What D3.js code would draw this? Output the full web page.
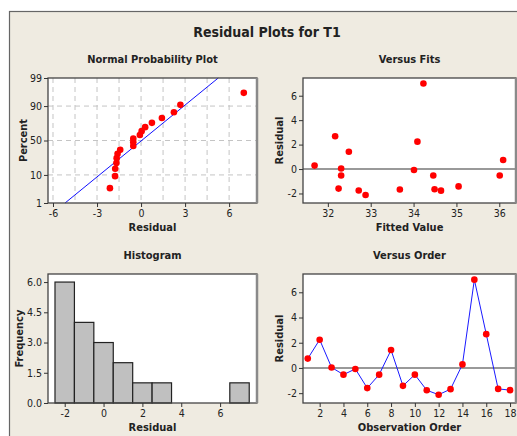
<!DOCTYPE html>
<html>
<head>
<meta charset="utf-8">
<script src="https://cdn.jsdelivr.net/npm/d3@7"></script>
<style>
body { margin: 0; background: #fff; }
text { font-family: "DejaVu Sans Condensed", "Liberation Sans Narrow", sans-serif; fill: #222; }
.tick line { stroke: #333; }
.tick text { font-size: 10.5px; fill: #222; font-family: "DejaVu Sans Condensed", sans-serif; }
</style>
</head>
<body>
<script>
// residuals in observation order, and their fitted values
var residuals = [0.74, 2.24, 0.04, -0.53, -0.08, -1.6, -0.53, 1.42, -1.42, -0.53, -1.77, -2.12, -1.68, 0.28, 7.0, 2.68, -1.66, -1.76];
var fits = [36.09, 34.09, 32.31, 32.31, 34.01, 32.25, 34.46, 32.49, 35.05, 36.01, 34.64, 32.88, 33.68, 31.69, 34.23, 32.17, 34.49, 32.72];
var order = [1, 2, 3, 4, 5, 6, 7, 8, 9, 10, 11, 12, 13, 14, 15, 16, 17, 18];

var pctTicks = [1, 10, 50, 90, 99];
var nppXTicks = [-6, -3, 0, 3, 6];
var nppGrid = [-6, -4.5, -3, -1.5, 0, 1.5, 3, 4.5, 6];
var fitTicks = [32, 33, 34, 35, 36];
var residTicks = [-2, 0, 2, 4, 6];
var histXTicks = [-2, 0, 2, 4, 6];
var histYTicks = [0, 1.5, 3, 4.5, 6];
var binEdges = [-2.5, -1.5, -0.5, 0.5, 1.5, 2.5, 3.5, 4.5, 5.5, 6.5, 7.5];
var orderTicks = [2, 4, 6, 8, 10, 12, 14, 16, 18];

var W = 517, H = 436;
var svg = d3.select("body").append("svg").attr("width", W).attr("height", H);

// outer beige frame
svg.append("rect").attr("x", 9.5).attr("y", 11.5).attr("width", 520).attr("height", 440)
	.attr("fill", "#efebe1").attr("stroke", "#666").attr("stroke-width", 1.2);

svg.append("text").attr("x", 267).attr("y", 37).attr("text-anchor", "middle")
	.style("font-size", "14px").style("font-weight", "bold").text("Residual Plots for T1");

var intFmt = function(d) { return String(d); };

// inverse normal cdf (Acklam)
function probit(p) {
	var a = [-39.69683028665376, 220.9460984245205, -275.9285104469687, 138.3577518672690, -30.66479806614716, 2.506628277459239];
	var b = [-54.47609879822406, 161.5858368580409, -155.6989798598866, 66.80131188771972, -13.28068155833025];
	var c = [-0.007784894002430293, -0.3223964580411365, -2.400758277161838, -2.549732539343734, 4.374664141464968, 2.938163982698783];
	var d = [0.007784695709041462, 0.3224671290700398, 2.445134137142996, 3.754408661907416];
	var pl = 0.02425, q, r;
	if (p < pl) {
		q = Math.sqrt(-2 * Math.log(p));
		return (((((c[0]*q+c[1])*q+c[2])*q+c[3])*q+c[4])*q+c[5]) / ((((d[0]*q+d[1])*q+d[2])*q+d[3])*q+1);
	}
	if (p > 1 - pl) {
		q = Math.sqrt(-2 * Math.log(1 - p));
		return -(((((c[0]*q+c[1])*q+c[2])*q+c[3])*q+c[4])*q+c[5]) / ((((d[0]*q+d[1])*q+d[2])*q+d[3])*q+1);
	}
	q = p - 0.5; r = q * q;
	return (((((a[0]*r+a[1])*r+a[2])*r+a[3])*r+a[4])*r+a[5])*q / (((((b[0]*r+b[1])*r+b[2])*r+b[3])*r+b[4])*r+1);
}

function panel(x0, y0, x1, y1, title, xlab, ylab, ylabX) {
	var g = svg.append("g");
	g.append("rect").attr("x", x0).attr("y", y0).attr("width", x1 - x0).attr("height", y1 - y0)
		.attr("fill", "#fff");
	g.append("text").attr("x", (x0 + x1) / 2).attr("y", y0 - 15).attr("text-anchor", "middle")
		.style("font-size", "11px").style("font-weight", "bold").text(title);
	g.append("text").attr("x", (x0 + x1) / 2).attr("y", y1 + 28).attr("text-anchor", "middle")
		.style("font-size", "11px").style("font-weight", "bold").text(xlab);
	g.append("text").attr("transform", "translate(" + ylabX + "," + (y0 + y1) / 2 + ") rotate(-90)")
		.attr("text-anchor", "middle").style("font-size", "11px").style("font-weight", "bold").text(ylab);
	return g;
}

function frame(g, x0, y0, x1, y1) {
	g.append("rect").attr("x", x0).attr("y", y0).attr("width", x1 - x0).attr("height", y1 - y0)
		.attr("fill", "none").attr("stroke", "#444").attr("stroke-width", 1.3);
	g.append("line").attr("x1", x1).attr("x2", x1).attr("y1", y0).attr("y2", y1)
		.attr("stroke", "#8a8a8a").attr("stroke-width", 2.5);
}

function axes(g, x, y, x0, y1, xt, yt, xfmt, yfmt) {
	g.append("g").attr("transform", "translate(0," + y1 + ")")
		.call(d3.axisBottom(x).tickValues(xt).tickSize(4).tickSizeOuter(0).tickPadding(3).tickFormat(xfmt))
		.call(function(s) { s.select(".domain").remove(); });
	g.append("g").attr("transform", "translate(" + x0 + ",0)")
		.call(d3.axisLeft(y).tickValues(yt).tickSize(4).tickSizeOuter(0).tickPadding(2).tickFormat(yfmt))
		.call(function(s) { s.select(".domain").remove(); });
}

// ---- Normal probability plot
(function() {
	var x0 = 48, y0 = 78, x1 = 257, y1 = 203;
	var g = panel(x0, y0, x1, y1, "Normal Probability Plot", "Residual", "Percent", 27);
	var x = d3.scaleLinear().domain([-6.34, 7.9]).range([x0, x1]);
	var y = d3.scaleLinear().domain([probit(0.01), probit(0.99)]).range([y1, y0]);
	g.selectAll(".vg").data(nppGrid).enter().append("line")
		.attr("x1", function(d) { return x(d); }).attr("x2", function(d) { return x(d); })
		.attr("y1", y0).attr("y2", y1)
		.attr("stroke", "#c4c4c4").attr("stroke-dasharray", "5,4");
	g.selectAll(".hg").data([10, 50, 90]).enter().append("line")
		.attr("x1", x0).attr("x2", x1)
		.attr("y1", function(d) { return y(probit(d / 100)); }).attr("y2", function(d) { return y(probit(d / 100)); })
		.attr("stroke", "#c4c4c4").attr("stroke-dasharray", "5,4");
	var n = residuals.length;
	var sorted = residuals.slice().sort(d3.ascending);
	var m = d3.mean(residuals), sd = d3.deviation(residuals);
	g.append("line")
		.attr("x1", x(m + sd * probit(0.01))).attr("y1", y(probit(0.01)))
		.attr("x2", x(m + sd * probit(0.99))).attr("y2", y(probit(0.99)))
		.attr("stroke", "#1010ff").attr("stroke-width", 1);
	g.selectAll("circle").data(sorted).enter().append("circle")
		.attr("cx", function(d) { return x(d); })
		.attr("cy", function(d, i) { return y(probit((i + 1 - 0.3) / (n + 0.4))); })
		.attr("r", 3.3).attr("fill", "#ff0000");
	frame(g, x0, y0, x1, y1);
	g.append("g").attr("transform", "translate(0," + y1 + ")")
		.call(d3.axisBottom(x).tickValues(nppXTicks).tickSize(4).tickSizeOuter(0).tickPadding(3).tickFormat(intFmt))
		.call(function(s) { s.select(".domain").remove(); });
	g.append("g").attr("transform", "translate(" + x0 + ",0)")
		.call(d3.axisLeft(y).tickValues(pctTicks.map(function(p) { return probit(p / 100); }))
			.tickSize(4).tickSizeOuter(0).tickPadding(2)
			.tickFormat(function(d, i) { return pctTicks[i]; }))
		.call(function(s) { s.select(".domain").remove(); });
})();

// ---- Versus fits
(function() {
	var x0 = 303, y0 = 78, x1 = 516, y1 = 203;
	var g = panel(x0, y0, x1, y1, "Versus Fits", "Fitted Value", "Residual", 283);
	var x = d3.scaleLinear().domain([31.42, 36.39]).range([x0, x1]);
	var y = d3.scaleLinear().domain([-2.78, 7.45]).range([y1, y0]);
	g.append("line").attr("x1", x0).attr("x2", x1).attr("y1", y(0)).attr("y2", y(0))
		.attr("stroke", "#777").attr("stroke-width", 1.5);
	g.selectAll("circle").data(residuals).enter().append("circle")
		.attr("cx", function(d, i) { return x(fits[i]); })
		.attr("cy", function(d) { return y(d); })
		.attr("r", 3.3).attr("fill", "#ff0000");
	frame(g, x0, y0, x1, y1);
	axes(g, x, y, x0, y1, fitTicks, residTicks, intFmt, intFmt);
})();

// ---- Histogram
(function() {
	var x0 = 48, y0 = 274, x1 = 257, y1 = 403;
	var g = panel(x0, y0, x1, y1, "Histogram", "Residual", "Frequency", 23);
	var x = d3.scaleLinear().domain([-2.86, 7.9]).range([x0, x1]);
	var y = d3.scaleLinear().domain([0, 6.4]).range([y1, y0]);
	var bins = d3.bin().domain([binEdges[0], binEdges[binEdges.length - 1]])
		.thresholds(binEdges.slice(1, -1))(residuals);
	g.selectAll(".bar").data(bins.filter(function(b) { return b.length > 0; })).enter().append("rect")
		.attr("x", function(b) { return x(b.x0); })
		.attr("width", function(b) { return x(b.x1) - x(b.x0); })
		.attr("y", function(b) { return y(b.length); })
		.attr("height", function(b) { return y(0) - y(b.length); })
		.attr("fill", "#c0c0c0").attr("stroke", "#222").attr("stroke-width", 1.2);
	frame(g, x0, y0, x1, y1);
	axes(g, x, y, x0, y1, histXTicks, histYTicks, intFmt, function(d) { return d.toFixed(1); });
})();

// ---- Versus order
(function() {
	var x0 = 303, y0 = 274, x1 = 516, y1 = 403;
	var g = panel(x0, y0, x1, y1, "Versus Order", "Observation Order", "Residual", 283);
	var x = d3.scaleLinear().domain([0.6, 18.5]).range([x0, x1]);
	var y = d3.scaleLinear().domain([-2.78, 7.45]).range([y1, y0]);
	g.append("line").attr("x1", x0).attr("x2", x1).attr("y1", y(0)).attr("y2", y(0))
		.attr("stroke", "#777").attr("stroke-width", 1.5);
	var line = d3.line().x(function(d, i) { return x(order[i]); }).y(function(d) { return y(d); });
	g.append("path").datum(residuals).attr("d", line)
		.attr("fill", "none").attr("stroke", "#1a1aff").attr("stroke-width", 1);
	g.selectAll("circle").data(residuals).enter().append("circle")
		.attr("cx", function(d, i) { return x(order[i]); })
		.attr("cy", function(d) { return y(d); })
		.attr("r", 3.3).attr("fill", "#ff0000");
	frame(g, x0, y0, x1, y1);
	axes(g, x, y, x0, y1, orderTicks, residTicks, intFmt, intFmt);
})();
</script>
</body>
</html>
